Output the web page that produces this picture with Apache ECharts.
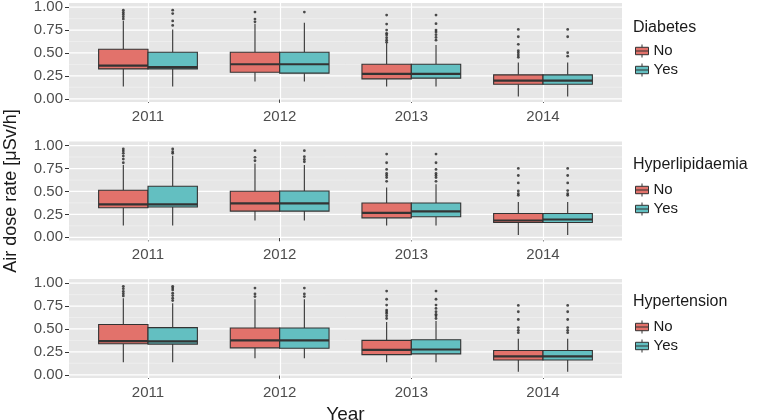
<!DOCTYPE html>
<html><head><meta charset="utf-8">
<script src="https://cdn.jsdelivr.net/npm/echarts@6/dist/echarts.min.js"></script>
<style>html,body{margin:0;padding:0;background:#fff}#c{width:760px;height:420px}</style>
</head><body><div id="c"></div>
<script>
// ---------------- data ----------------
const years = ['2011', '2012', '2013', '2014'];
const groups = ['No', 'Yes'];
const panelTitles = ['Diabetes', 'Hyperlipidaemia', 'Hypertension'];
const yTicks = [0, 0.25, 0.5, 0.75, 1];
const yMinorTicks = [0.125, 0.375, 0.625, 0.875];

// each row: [lower whisker, Q1, median, Q3, upper whisker]
const diabetesNo = [
  [0.134, 0.326, 0.362, 0.540, 0.850],
  [0.188, 0.290, 0.377, 0.507, 0.820],
  [0.134, 0.217, 0.272, 0.377, 0.605],
  [0.025, 0.159, 0.199, 0.261, 0.395]
];
const diabetesYes = [
  [0.134, 0.326, 0.345, 0.507, 0.757],
  [0.188, 0.280, 0.377, 0.507, 0.830],
  [0.134, 0.225, 0.272, 0.377, 0.587],
  [0.025, 0.159, 0.199, 0.261, 0.395]
];
const diabetesNoOut = [
  [0.870, 0.895, 0.920, 0.942, 0.967],
  [0.840, 0.870, 0.946],
  [0.616, 0.640, 0.666, 0.696, 0.714, 0.750, 0.815, 0.913],
  [0.453, 0.478, 0.503, 0.525, 0.594, 0.677, 0.757]
];
const diabetesYesOut = [
  [0.800, 0.850, 0.930, 0.967],
  [0.946],
  [0.640, 0.670, 0.700, 0.730, 0.750, 0.820, 0.913],
  [0.465, 0.503, 0.677, 0.757]
];

const hyperlipNo = [
  [0.128, 0.322, 0.359, 0.513, 0.790],
  [0.183, 0.286, 0.370, 0.502, 0.806],
  [0.128, 0.212, 0.267, 0.374, 0.542],
  [0.026, 0.161, 0.183, 0.260, 0.385]
];
const hyperlipYes = [
  [0.128, 0.330, 0.359, 0.557, 0.890],
  [0.183, 0.286, 0.370, 0.505, 0.788],
  [0.128, 0.224, 0.282, 0.374, 0.579],
  [0.026, 0.161, 0.194, 0.260, 0.385]
];
const hyperlipNoOut = [
  [0.813, 0.853, 0.886, 0.916, 0.941, 0.963],
  [0.835, 0.872, 0.945],
  [0.611, 0.652, 0.674, 0.696, 0.740, 0.813, 0.908],
  [0.458, 0.476, 0.505, 0.593, 0.674, 0.751]
];
const hyperlipYesOut = [
  [0.916, 0.934, 0.963],
  [0.824, 0.850, 0.879, 0.945],
  [0.611, 0.652, 0.674, 0.696, 0.740, 0.813, 0.908],
  [0.458, 0.476, 0.510, 0.593, 0.674, 0.751]
];

const hypertensionNo = [
  [0.136, 0.338, 0.368, 0.548, 0.835],
  [0.180, 0.294, 0.375, 0.511, 0.824],
  [0.136, 0.220, 0.272, 0.375, 0.577],
  [0.033, 0.162, 0.202, 0.265, 0.393]
];
const hypertensionYes = [
  [0.136, 0.335, 0.364, 0.515, 0.780],
  [0.180, 0.290, 0.375, 0.511, 0.824],
  [0.136, 0.228, 0.276, 0.382, 0.588],
  [0.033, 0.162, 0.202, 0.265, 0.393]
];
const hypertensionNoOut = [
  [0.860, 0.885, 0.910, 0.940, 0.965],
  [0.853, 0.882, 0.946],
  [0.614, 0.643, 0.669, 0.688, 0.706, 0.761, 0.824, 0.913],
  [0.460, 0.485, 0.515, 0.603, 0.688, 0.757]
];
const hypertensionYesOut = [
  [0.810, 0.835, 0.864, 0.890, 0.926, 0.946, 0.965],
  [0.853, 0.882, 0.946],
  [0.614, 0.643, 0.660, 0.688, 0.724, 0.761, 0.824, 0.913],
  [0.460, 0.485, 0.515, 0.603, 0.688, 0.757]
];

// ---------------- layout / style ----------------
const FONT = 'Liberation Sans, Arial, sans-serif';
const colors = { No: '#E2726B', Yes: '#63BFC1' };
const DODGE = 0.1875, HALF = 0.1875;
const grids = [
  { left: 69, right: 138, top: 3, height: 99 },
  { left: 69, right: 138, top: 141.5, height: 99 },
  { left: 69, right: 138, top: 279, height: 99 }
];
const titleTops = [19, 156, 293];
const legendTops = [43.5, 182.5, 319.5];

const panels = [
  { No: diabetesNo, Yes: diabetesYes, NoOut: diabetesNoOut, YesOut: diabetesYesOut },
  { No: hyperlipNo, Yes: hyperlipYes, NoOut: hyperlipNoOut, YesOut: hyperlipYesOut },
  { No: hypertensionNo, Yes: hypertensionYes, NoOut: hypertensionNoOut, YesOut: hypertensionYesOut }
];

const xPos = years.map((y, i) => i + 1);

function gridLines(params, api) {
  const kind = api.value(0), v = api.value(1);
  const cs = params.coordSys;
  if (kind === 2) {
    const px = Math.round(api.coord([v, 0.5])[0]) + 0.5;
    return { type: 'line', shape: { x1: px, y1: cs.y, x2: px, y2: cs.y + cs.height },
      style: { stroke: '#ffffff', lineWidth: 1.2 } };
  }
  const py = api.coord([1, v])[1];
  return { type: 'line', shape: { x1: cs.x, y1: py, x2: cs.x + cs.width, y2: py },
    style: kind === 0 ? { stroke: '#ffffff', lineWidth: 1.2 } : { stroke: '#F3F3F3', lineWidth: 0.6 } };
}

function boxRenderer(dodge, fill) {
  return function (params, api) {
    const x = api.value(0) + dodge;
    const lo = api.coord([x, api.value(1)]);
    const q1 = api.coord([x, api.value(2)]);
    const md = api.coord([x, api.value(3)]);
    const q3 = api.coord([x, api.value(4)]);
    const hi = api.coord([x, api.value(5)]);
    const hw = api.size([HALF, 0])[0];
    const stroke = '#333333';
    return {
      type: 'group',
      children: [
        { type: 'line', shape: { x1: hi[0], y1: hi[1], x2: q3[0], y2: q3[1] }, style: { stroke, lineWidth: 1.1 } },
        { type: 'line', shape: { x1: q1[0], y1: q1[1], x2: lo[0], y2: lo[1] }, style: { stroke, lineWidth: 1.1 } },
        { type: 'rect', shape: { x: q3[0] - hw, y: q3[1], width: hw * 2, height: q1[1] - q3[1] },
          style: { fill, stroke, lineWidth: 1.1 } },
        { type: 'line', shape: { x1: md[0] - hw, y1: md[1], x2: md[0] + hw, y2: md[1] }, style: { stroke, lineWidth: 2.2 } }
      ]
    };
  };
}

const gridData = []
  .concat(yTicks.map(v => [0, v]))
  .concat(yMinorTicks.map(v => [1, v]))
  .concat(xPos.map(v => [2, v]));

const xAxes = [], yAxes = [], series = [], titles = [], legends = [];
const boxIcon = 'path://M0,3 L14,3 L14,11 L0,11 Z M0,7 L14,7 M7,0 L7,3 M7,11 L7,14';

panels.forEach((p, gi) => {
  xAxes.push({
    type: 'value', gridIndex: gi, min: 0.4, max: 4.6,
    axisLine: { show: false }, splitLine: { show: false },
    axisTick: { show: true, customValues: xPos, length: 4, lineStyle: { color: '#333333', width: 1 } },
    axisLabel: { customValues: xPos, formatter: v => years[Math.round(v) - 1], margin: 7,
      fontSize: 15, color: '#4D4D4D', fontFamily: FONT },
    name: gi === 2 ? 'Year' : '', nameLocation: 'middle', nameGap: 27,
    nameTextStyle: { fontSize: 19, color: '#1A1A1A', fontFamily: FONT }
  });
  yAxes.push({
    type: 'value', gridIndex: gi, min: -0.035, max: 1.045,
    axisLine: { show: false }, splitLine: { show: false },
    axisTick: { show: true, customValues: yTicks, length: 4, lineStyle: { color: '#333333', width: 1 } },
    axisLabel: { customValues: yTicks, formatter: v => v.toFixed(2), margin: 6,
      fontSize: 15, color: '#4D4D4D', fontFamily: FONT },
    name: gi === 1 ? 'Air dose rate [μSv/h]' : '', nameLocation: 'middle', nameGap: 49, nameRotate: 90,
    nameTextStyle: { fontSize: 18, color: '#1A1A1A', fontFamily: FONT }
  });
  series.push({
    type: 'custom', name: 'grid' + gi, xAxisIndex: gi, yAxisIndex: gi, silent: true, z: 1,
    renderItem: gridLines, data: gridData
  });
  groups.forEach((g, k) => {
    const dodge = k === 0 ? -DODGE : DODGE;
    series.push({
      type: 'custom', name: g, xAxisIndex: gi, yAxisIndex: gi, z: 3,
      itemStyle: { color: colors[g] },
      renderItem: boxRenderer(dodge, colors[g]),
      data: p[g].map((r, i) => [xPos[i]].concat(r))
    });
    const outs = [];
    p[g + 'Out'].forEach((arr, i) => arr.forEach(v => outs.push([xPos[i] + dodge, v])));
    series.push({
      type: 'scatter', name: 'out' + g + gi, xAxisIndex: gi, yAxisIndex: gi, z: 4,
      symbol: 'circle', symbolSize: 2.8, itemStyle: { color: '#222222' }, silent: true,
      data: outs
    });
  });
  titles.push({
    text: panelTitles[gi], left: 633, top: titleTops[gi], padding: 0,
    textStyle: { fontSize: 16, fontWeight: 'normal', color: '#1A1A1A', fontFamily: FONT, lineHeight: 18 }
  });
  legends.push({
    data: groups, left: 635, top: legendTops[gi], padding: 0, orient: 'vertical',
    itemWidth: 13, itemHeight: 13, itemGap: 4, icon: boxIcon, selectedMode: false,
    itemStyle: { borderColor: '#333333', borderWidth: 1 },
    textStyle: { fontSize: 15, color: '#1A1A1A', fontFamily: FONT, padding: [0, 0, 0, 0] }
  });
});

const chart = echarts.init(document.getElementById('c'), null, { renderer: 'canvas' });
chart.setOption({
  animation: false,
  backgroundColor: '#ffffff',
  title: titles,
  legend: legends,
  grid: grids.map(g => Object.assign({ show: true, backgroundColor: '#E6E6E6', borderWidth: 0,
    containLabel: false, outerBoundsMode: 'none' }, g)),
  xAxis: xAxes,
  yAxis: yAxes,
  series: series
});
</script>
</body></html>
